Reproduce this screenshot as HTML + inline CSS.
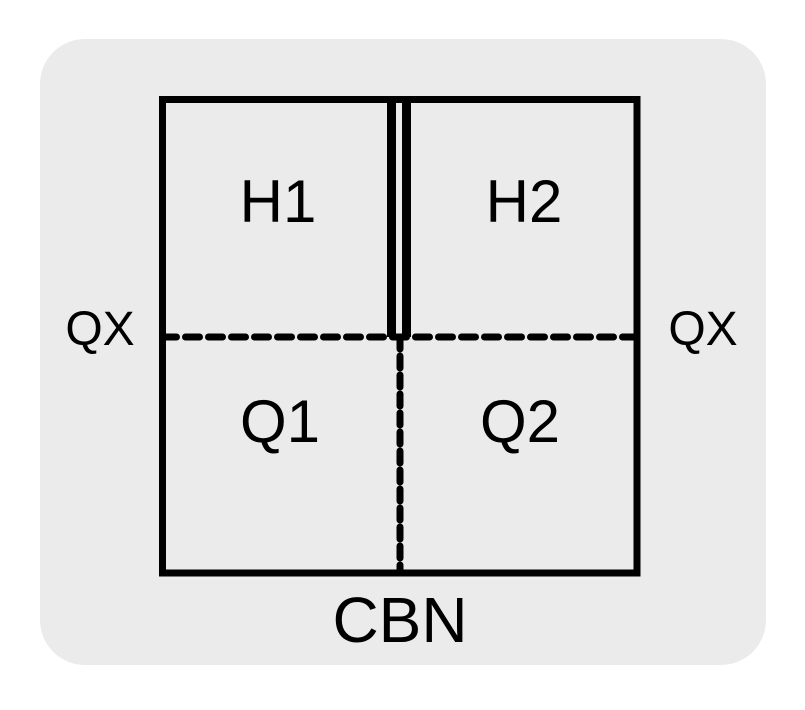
<!DOCTYPE html>
<html><head><style>body{margin:0;background:#fff}</style></head><body>
<svg width="805" height="705" xmlns="http://www.w3.org/2000/svg" font-family="Liberation Sans, sans-serif">
<rect x="40" y="39" width="726" height="626" rx="45" fill="#ebebeb"/>
<line x1="162.5" y1="337" x2="637" y2="337" stroke="#000" stroke-width="7" stroke-dasharray="14,9" stroke-linecap="round"/>
<line x1="400" y1="337" x2="400" y2="573" stroke="#000" stroke-width="7" stroke-dasharray="12,7" stroke-linecap="round"/>
<rect x="387" y="99" width="9" height="238" fill="#000"/>
<rect x="402" y="99" width="9" height="238" fill="#000"/>
<rect x="162.5" y="99.5" width="474.5" height="473.5" fill="none" stroke="#000" stroke-width="7"/>
<g font-size="60" text-anchor="middle" fill="#000">
<text x="278" y="222">H1</text>
<text x="524" y="222">H2</text>
<text x="280" y="442">Q1</text>
<text x="520" y="442">Q2</text>
<text x="400" y="642" font-size="64">CBN</text>
</g>
<g font-size="48" text-anchor="middle" fill="#000">
<text x="100" y="345">QX</text>
<text x="703" y="345">QX</text>
</g>
</svg>
</body></html>
